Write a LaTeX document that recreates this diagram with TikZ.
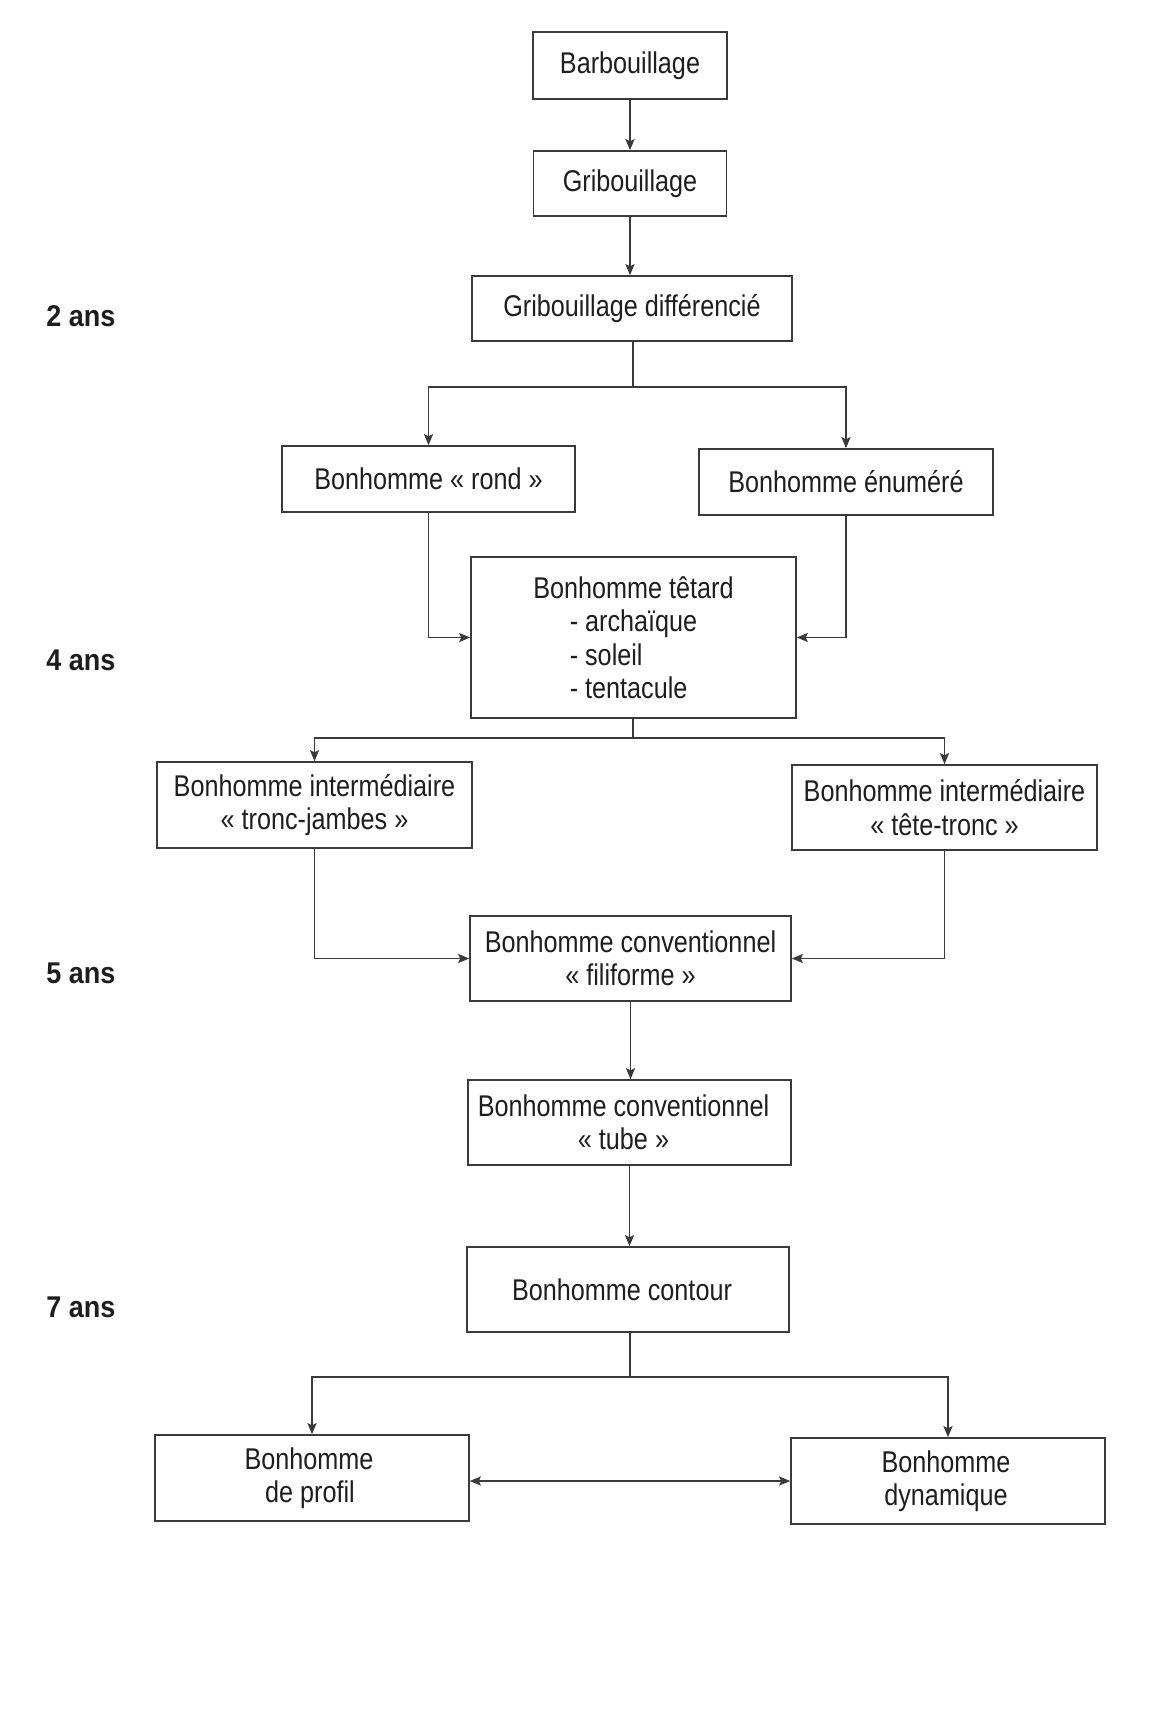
\documentclass[tikz,border=0pt]{standalone}
\usepackage{fontspec}
\setmainfont{Liberation Sans}[FakeStretch=0.84]
\newfontfamily\agefont{Liberation Sans}[FakeStretch=0.9]
\usetikzlibrary{arrows.meta}
\definecolor{linec}{HTML}{3A3A3A}
\definecolor{txt}{HTML}{1E1E1E}
\newlength\listw
\begin{document}
\begin{tikzpicture}[x=0.5pt,y=-0.5pt,
  box/.style={draw=linec, line width=0.8pt, align=center, inner sep=0pt,
    font=\fontsize{15}{16.75}\selectfont, text=txt},
  agelabel/.style={anchor=west, inner sep=0pt, text=txt,
    font=\agefont\fontsize{15}{16.75}\selectfont\bfseries},
  conn/.style={draw=linec, line width=0.8pt},
  arr/.style={conn, -{Stealth[length=5.5pt,width=4.5pt,inset=1pt]}},
  darr/.style={conn, {Stealth[length=5.5pt,width=4.5pt,inset=1pt]}-{Stealth[length=5.5pt,width=4.5pt,inset=1pt]}}]
\fill[white] (0,0) rectangle (1154,1724);
\useasboundingbox (0,0) rectangle (1154,1724);

% boxes
\node[box, minimum width=97pt, minimum height=33.5pt] (barb) at (630,65.5) {Barbouillage};
\node[box, minimum width=96.5pt, minimum height=32.5pt] (grib) at (630,183.5) {Gribouillage};
\node[box, minimum width=160pt, minimum height=32.5pt] (diff) at (632,308.5) {Gribouillage différencié};
\node[box, minimum width=146.5pt, minimum height=33pt] (rond) at (428.5,479) {Bonhomme « rond »};
\node[box, minimum width=147pt, minimum height=33pt] (enum) at (846,482) {Bonhomme énuméré};
\node[box, minimum width=162.5pt, minimum height=80.5pt] (tetard) at (633.5,637.5) {\settowidth{\listw}{- archaïque}\global\listw=\listw Bonhomme têtard\\\makebox[\listw][l]{- archaïque}\\\makebox[\listw][l]{- soleil}\\\makebox[\listw][l]{- tentacule}};
\node[box, minimum width=157.5pt, minimum height=43pt] (tj) at (314.5,805) {Bonhomme intermédiaire\\« tronc-jambes »};
\node[box, minimum width=152.5pt, minimum height=42.5pt] (tt) at (944.5,807.5) {Bonhomme intermédiaire\\« tête-tronc »};
\node[box, minimum width=160.5pt, minimum height=42.5pt] (fili) at (630.5,958.5) {Bonhomme conventionnel\\« filiforme »};
\node[box, minimum width=161.5pt, minimum height=42.5pt] (tube) at (629.5,1122.5) {Bonhomme conventionnel\hspace*{6pt}\\« tube »\hspace*{6pt}};
\node[box, minimum width=161pt, minimum height=42.5pt] (contour) at (628,1289.5) {Bonhomme contour\hspace*{6pt}};
\node[box, minimum width=157pt, minimum height=43pt] (profil) at (312,1478) {Bonhomme\hspace*{3pt}\\de profil\hspace*{2pt}};
\node[box, minimum width=157pt, minimum height=43pt] (dyn) at (948,1481) {Bonhomme\hspace*{2pt}\\dynamique\hspace*{2pt}};

% age labels
\node[agelabel] (a2) at (46,316) {2 ans};
\node[agelabel] (a4) at (46,660) {4 ans};
\node[agelabel] (a5) at (46,973) {5 ans};
\node[agelabel] (a7) at (46,1307) {7 ans};

% split points
\coordinate (s1) at (633,387);
\coordinate (s2) at (633,738);
\coordinate (s3) at (630,1377);

% connectors
\draw[arr] (barb.south) -- (barb.south |- grib.north);
\draw[arr] (grib.south) -- (grib.south |- diff.north);
\draw[conn] (diff.south -| s1) -- (s1);
\draw[arr] (s1) -| (rond.north);
\draw[arr] (s1) -| (enum.north);
\draw[arr] (rond.south) |- (tetard.west);
\draw[arr] (enum.south) |- (tetard.east);
\draw[conn] (tetard.south -| s2) -- (s2);
\draw[arr] (s2) -| (tj.north);
\draw[arr] (s2) -| (tt.north);
\draw[arr] (tj.south) |- (fili.west);
\draw[arr] (tt.south) |- (fili.east);
\draw[arr] (fili.south) -- (fili.south |- tube.north);
\draw[arr] (tube.south) -- (tube.south |- contour.north);
\draw[conn] (contour.south -| s3) -- (s3);
\draw[arr] (s3) -| (profil.north);
\draw[arr] (s3) -| (dyn.north);
\draw[darr] (profil.east |- dyn.west) -- (dyn.west);
\end{tikzpicture}
\end{document}
